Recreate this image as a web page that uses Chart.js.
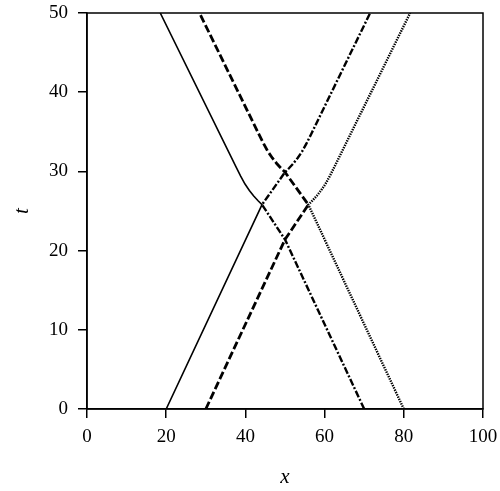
<!DOCTYPE html>
<html>
<head>
<meta charset="utf-8">
<script src="https://cdn.jsdelivr.net/npm/chart.js@4"></script>
<style>
    html, body { margin: 0; padding: 0; background: #fff; }
    #wrap { width: 500px; height: 491px; }
</style>
</head>
<body>
<div id="wrap"><canvas id="solitonChart" width="500" height="491"></canvas></div>
<script>
// x ticks and t ticks
var xTicks = [0, 20, 40, 60, 80, 100];
var tTicks = [0, 10, 20, 30, 40, 50];

// solid wave: from x=20 up to the first crossing, then back up-left
var solidX = [20, 44.2, 43.2, 42.1, 41.0, 39.9, 38.8, 37.6, 18.5];
var solidT = [0, 25.8, 26.3, 26.9, 27.6, 28.4, 29.4, 30.6, 50];

// dashed wave
var dashedX = [30, 50, 55.9, 50, 49.0, 47.9, 46.8, 45.7, 44.6, 43.4, 28.4];
var dashedT = [0, 21.4, 25.8, 29.9, 30.4, 31.0, 31.7, 32.5, 33.5, 34.7, 50];

// dash-dot wave
var dashDotX = [70, 50, 44.2, 50, 51.0, 52.1, 53.2, 54.3, 55.4, 56.6, 71.5];
var dashDotT = [0, 21.4, 25.8, 29.9, 30.4, 31.0, 31.7, 32.5, 33.5, 34.7, 50];

// dotted wave
var dottedX = [80, 55.9, 56.9, 58.0, 59.1, 60.2, 61.3, 62.5, 81.6];
var dottedT = [0, 25.8, 26.3, 26.9, 27.6, 28.4, 29.4, 30.6, 50];

function toPoints(xs, ts) {
    return xs.map(function (x, i) {
        return { x: x, y: ts[i] };
    });
}

function lineSet(xs, ts, width, dash) {
    return {
        data: toPoints(xs, ts),
        showLine: true,
        borderColor: '#000',
        borderWidth: width,
        borderDash: dash,
        pointRadius: 0,
        tension: 0,
        fill: false
    };
}

var frame = {
    id: 'frame',
    afterDraw: function (chart) {
        var a = chart.chartArea;
        var ctx = chart.ctx;
        ctx.save();
        ctx.strokeStyle = '#000';
        ctx.lineWidth = 1.5;
        ctx.strokeRect(a.left, a.top, a.right - a.left, a.bottom - a.top);
        ctx.restore();
    }
};

var tickFont = { family: 'Liberation Serif', size: 19 };
var titleFont = { family: 'Liberation Serif', size: 21, style: 'italic' };

new Chart(document.getElementById('solitonChart'), {
    type: 'scatter',
    data: {
        datasets: [
            lineSet(solidX, solidT, 1.6, []),
            lineSet(dashedX, dashedT, 2.8, [8, 3]),
            lineSet(dashDotX, dashDotT, 2.4, [7, 2, 2, 2]),
            lineSet(dottedX, dottedT, 2.4, [1.4, 1.1])
        ]
    },
    options: {
        responsive: false,
        animation: false,
        layout: { padding: { top: 13, right: 17, left: 0, bottom: 0 } },
        plugins: {
            legend: { display: false },
            tooltip: { enabled: false }
        },
        scales: {
            x: {
                type: 'linear',
                min: 0,
                max: 100,
                afterBuildTicks: function (scale) {
                    scale.ticks = xTicks.map(function (v) { return { value: v }; });
                },
                afterFit: function (scale) {
                    scale.height = 82;
                    scale.paddingLeft = 0;
                    scale.paddingRight = 0;
                },
                ticks: { color: '#000', font: tickFont, padding: 8, maxRotation: 0 },
                grid: { drawOnChartArea: false, color: '#000', lineWidth: 1.5, tickLength: 9 },
                border: { color: '#000', width: 1.5 },
                title: { display: true, text: 'x', color: '#000', font: titleFont, padding: { top: 0, bottom: 1 } }
            },
            y: {
                type: 'linear',
                min: 0,
                max: 50,
                afterBuildTicks: function (scale) {
                    scale.ticks = tTicks.map(function (v) { return { value: v }; });
                },
                afterFit: function (scale) {
                    scale.width = 87;
                    scale.paddingTop = 0;
                    scale.paddingBottom = 0;
                },
                ticks: { color: '#000', font: tickFont, padding: 10 },
                grid: { drawOnChartArea: false, color: '#000', lineWidth: 1.5, tickLength: 9 },
                border: { color: '#000', width: 1.5 },
                title: { display: true, text: 't', color: '#000', font: titleFont, padding: { top: 10, bottom: 0 } }
            }
        }
    },
    plugins: [frame]
});
</script>
</body>
</html>
